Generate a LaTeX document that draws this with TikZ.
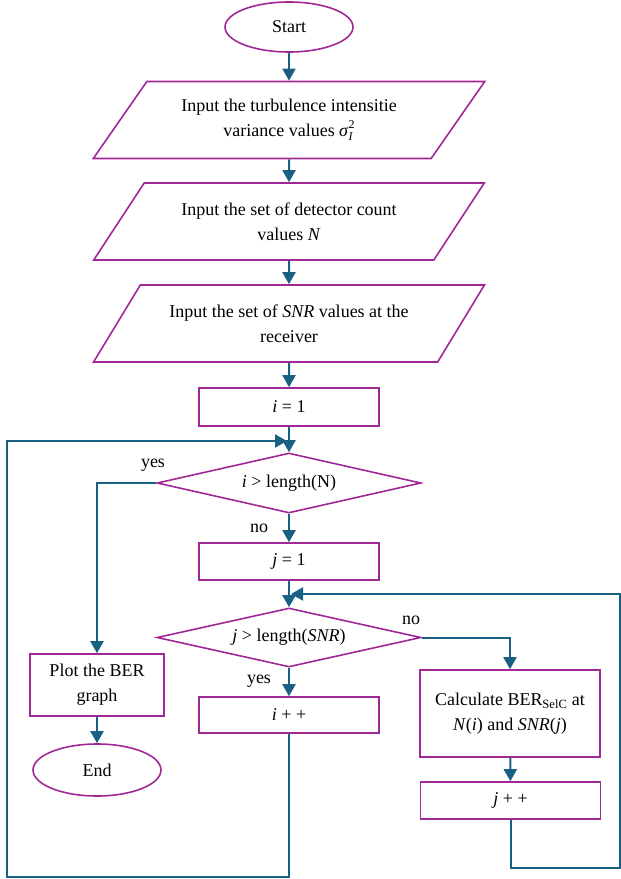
\documentclass[tikz,border=0pt]{standalone}
\usepackage{fontspec}
\setmainfont{Liberation Serif}
\usetikzlibrary{shapes.geometric,arrows.meta}

\definecolor{boxpurple}{RGB}{160,40,150}
\definecolor{flowblue}{RGB}{26,96,130}

\newcommand{\scintidx}{\textit{σ}\rlap{\raisebox{-4pt}{\fontsize{12}{12}\selectfont\textit{I}}}\raisebox{8pt}{\fontsize{12}{12}\selectfont 2}}

\begin{document}
\begin{tikzpicture}[x=1pt,y=-1pt,
        every node/.style={font=\fontsize{18}{25}\selectfont, align=center},
        term/.style={ellipse, draw=boxpurple, line width=1.6pt, minimum width=128pt, minimum height=50pt},
        io/.style={trapezium, trapezium left angle=49, trapezium right angle=131, trapezium stretches=true,
                draw=boxpurple, line width=1.6pt, minimum width=392pt, minimum height=77pt},
        proc/.style={rectangle, draw=boxpurple, line width=1.6pt, minimum width=180pt, minimum height=37pt},
        test/.style={diamond, draw=boxpurple, line width=1.6pt, aspect=4.4, inner sep=0pt,
                minimum width=264pt, minimum height=60pt},
        flow/.style={draw=flowblue, line width=2pt, -{Triangle[length=12pt,width=13pt]}}]

        \useasboundingbox (0,0) rectangle (621,879);

        % main column
        \node[term] (start) at (289,27) {Start};
        \node[io] (inT) at (289,120) {Input the turbulence intensitie\\variance values \scintidx};
        \node[io] (inN) at (289,221.5) {Input the set of detector count\\values \textit{N}};
        \node[io] (inS) at (289,323.5) {Input the set of \textit{SNR} values at the\\receiver};
        \node[proc, minimum height=38pt] (i1) at (289,407) {\textit{i} = 1};
        \node[test] (ichk) at (289,483) {\textit{i} > length(N)};
        \node[proc] (j1) at (289,561.5) {\textit{j} = 1};
        \node[test, minimum height=59pt] (jchk) at (289,637.5) {\textit{j} > length(\textit{SNR})};
        \node[proc, minimum height=36pt] (iinc) at (289,715) {\textit{i} + +};

        % left branch
        \node[proc, minimum width=134pt, minimum height=62pt] (plot) at (97,685) {Plot the BER\\graph};
        \node[term, minimum height=52pt] (end) at (97,770) {End};

        % right branch
        \node[proc, minimum height=87pt] (calc) at (510,713.5) {Calculate BER\textsubscript{SelC} at\\\textit{N}(\textit{i}) and \textit{SNR}(\textit{j})};
        \node[proc] (jinc) at (510.5,800.5) {\textit{j} + +};

        % branch labels
        \node (yesI) at (153,465) {yes};
        \node (noI) at (259,528) {no};
        \node (noJ) at (411,620) {no};
        \node (yesJ) at (259,681) {yes};

        % loop corners
        \coordinate (iback) at (287,441);
        \coordinate (jback) at (291,594);
        \coordinate (lowL) at (7,877);
        \coordinate (lowR) at (620,868);

        \draw[flow] (start) -- (inT);
        \draw[flow] (inT) -- (inN);
        \draw[flow] (inN) -- (inS);
        \draw[flow] (inS) -- (i1);
        \draw[flow] (i1) -- (ichk);
        \draw[flow] (ichk) -- (j1);
        \draw[flow] (j1) -- (jchk);
        \draw[flow] (jchk) -- (iinc);
        \draw[flow] (ichk.west) -| (plot);
        \draw[flow] (plot) -- (end);
        \draw[flow] (jchk.east) -| (calc);
        \draw[flow] (calc) -- (jinc);
        \draw[flow] (iinc) |- (lowL) |- (iback);
        \draw[flow] (jinc) |- (lowR) |- (jback);
\end{tikzpicture}
\end{document}
